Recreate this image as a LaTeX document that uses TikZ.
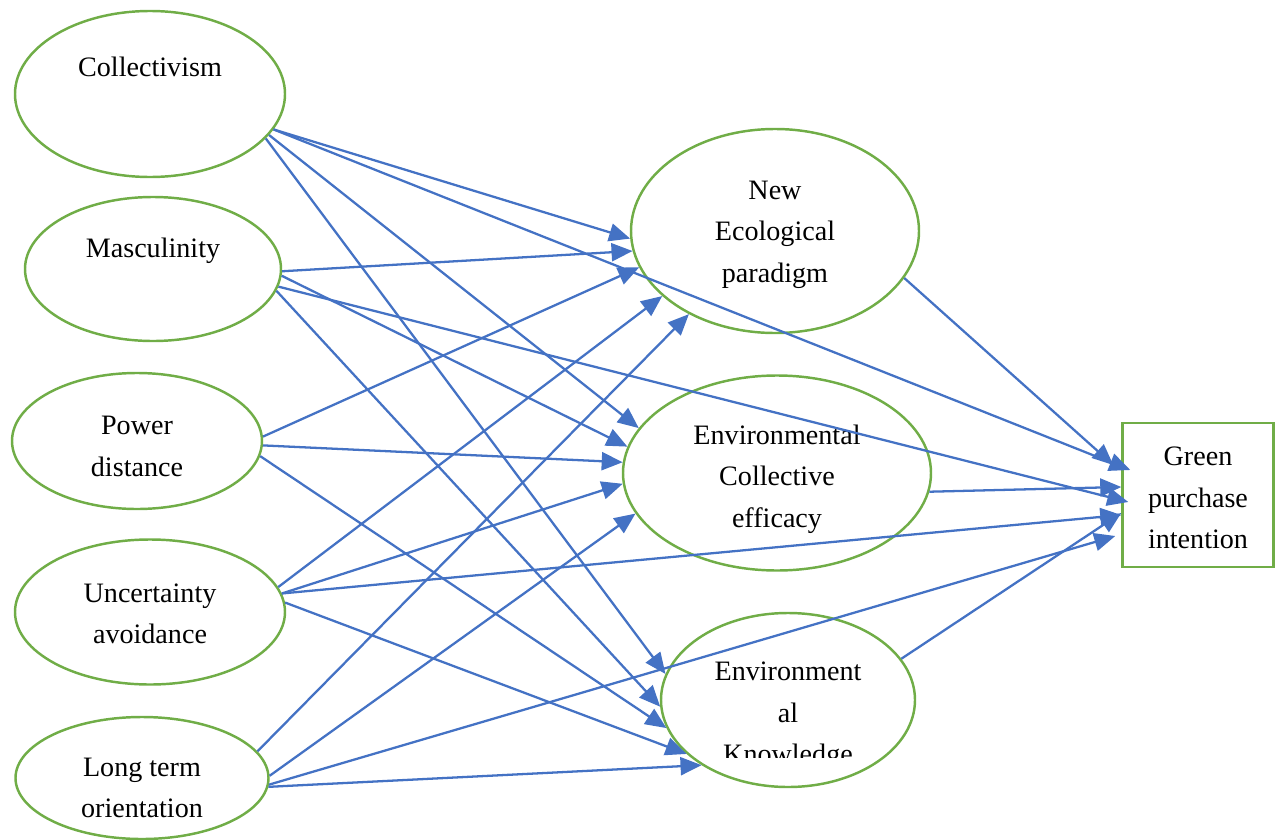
\documentclass[tikz,border=0pt]{standalone}
\usepackage{fontspec}
\setmainfont{Liberation Serif}
\usetikzlibrary{arrows.meta,shapes,positioning}
\definecolor{leafgreen}{HTML}{70AD47}
\definecolor{pathblue}{HTML}{4472C4}
\tikzstyle{factor} = [ellipse, draw=leafgreen, line width=1.4pt]
\tikzstyle{outcome} = [rectangle, draw=leafgreen, line width=1.4pt, minimum width=3.02cm, minimum height=2.88cm]
\tikzstyle{lbl} = [align=center, inner sep=0pt, font={\fontsize{16}{23.6}\selectfont}]
\tikzstyle{path} = [draw=pathblue, line width=1.3pt]

\begin{document}
\begin{tikzpicture}[>={Triangle[length=0.42cm,width=0.36cm]}]
   \useasboundingbox (0,0) rectangle (25.54,-16.8);
   % nodes
   \node[factor, minimum width=5.4cm, minimum height=3.32cm, label={[lbl, yshift=0.54cm]center:Collectivism}] (col) at (3.0,-1.88) {};
   \node[factor, minimum width=5.12cm, minimum height=2.88cm, label={[lbl, yshift=0.36cm]center:Masculinity}] (masc) [below of=col, node distance=3.5cm, xshift=0.06cm] {};
   \node[factor, minimum width=5.0cm, minimum height=2.72cm, label={[lbl, yshift=-0.11cm]center:Power\\distance}] (pd) [below of=masc, node distance=3.44cm, xshift=-0.32cm] {};
   \node[factor, minimum width=5.4cm, minimum height=2.9cm, label={[lbl, yshift=-0.04cm]center:Uncertainty\\avoidance}] (ua) [below of=pd, node distance=3.42cm, xshift=0.26cm] {};
   \node[factor, minimum width=5.06cm, minimum height=2.44cm, label={[lbl, yshift=-0.2cm]center:Long term\\orientation}] (lto) [below of=ua, node distance=3.32cm, xshift=-0.16cm] {};

   \node[factor, minimum width=5.76cm, minimum height=4.08cm, label={[lbl, yshift=-0.07cm]center:New\\Ecological\\paradigm}] (nep) at (15.5,-4.62) {};
   \node[factor, minimum width=6.16cm, minimum height=3.9cm, label={[lbl, yshift=-0.12cm]center:Environmental\\Collective\\efficacy}] (ece) [below of=nep, node distance=4.84cm, xshift=0.04cm] {};
   \node[factor, minimum width=5.08cm, minimum height=3.48cm] (ek) [below of=ece, node distance=4.54cm, xshift=0.22cm] {};
   \begin{scope}
      \clip (ek.north -| ek.west) rectangle ([yshift=-1.14cm]ek.east);
      \node[lbl] (ek-t) at ([yshift=-0.32cm]ek.center) {Environment\\al\\Knowledge};
   \end{scope}
   \node[outcome, label={[lbl, yshift=-0.06cm]center:Green\\purchase\\intention}] (gpi) [right of=ece, node distance=8.42cm, yshift=-0.44cm] {};

   % edges
   \draw[path, ->] (col.-16) -- (nep.183);
   \draw[path, ->] (col.-19) -- (ece.162);
   \draw[path, ->] (col.-21) -- (ek.168);
   \draw[path, ->] (col.-16) -- ([shift={(0.18,0.5)}]gpi.west);

   \draw[path, ->] (masc.-1) -- (nep.188);
   \draw[path, ->] (masc.-3) -- (ece.170);
   \draw[path, ->] (masc.-10) -- (ek.183);
   \draw[path, ->] (masc.-8) -- ([shift={(0.14,-0.14)}]gpi.west);

   \draw[path, ->] (pd.2) -- (nep.195);
   \draw[path, ->] (pd.-2) -- (ece.176);
   \draw[path, ->] (pd.-7) -- (ek.193);

   \draw[path, ->] (ua.11) -- (nep.210);
   \draw[path, ->] (ua.8) -- (ece.184);
   \draw[path, ->] (ua.8) -- ([yshift=-0.4cm]gpi.west);
   \draw[path, ->] (ua.4) -- (ek.208);

   \draw[path, ->] (lto.13) -- (nep.224);
   \draw[path, ->] (lto.1) -- (ece.196);
   \draw[path, ->] (lto.-3) -- ([shift={(-0.12,-0.82)}]gpi.west);
   \draw[path, ->] (lto.-4) -- (ek.217);

   \draw[path, ->] (nep.-20) -- ([shift={(-0.16,0.6)}]gpi.west);
   \draw[path, ->] (ece.-7) -- ([yshift=0.16cm]gpi.west);
   \draw[path, ->] (ek.20) -- ([yshift=-0.36cm]gpi.west);
\end{tikzpicture}
\end{document}
